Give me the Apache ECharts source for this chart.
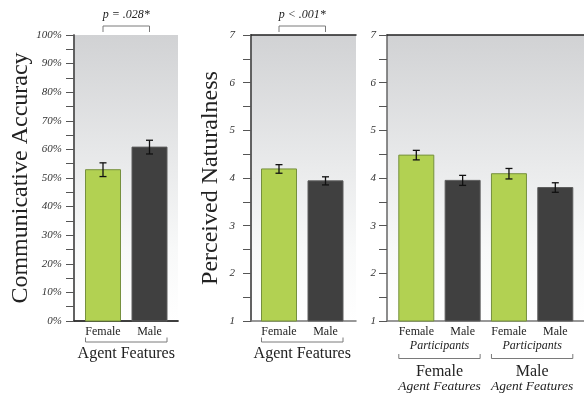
<!DOCTYPE html>
<html>
<head>
<meta charset="utf-8">
<script src="https://cdn.jsdelivr.net/npm/echarts@6/dist/echarts.min.js"></script>
<style>html,body{margin:0;padding:0;background:#fff}#c{width:584px;height:394px}</style>
</head>
<body>
<div id="c"></div>
<script>
// ---- data ----
const accCats = ['Female', 'Male'];
const accValues = [52.9, 60.8];
const accErr = [2.4, 2.4];
const accTicks = { min: 0, max: 100, interval: 10 };
const accP = 'p = .028*';

const natCats = ['Female', 'Male'];
const natValues = [4.19, 3.94];
const natErr = [0.09, 0.085];
const natP = 'p < .001*';

const partCats = ['Female', 'Male', 'Female', 'Male'];
const partSub = 'Participants';
const partValues = [4.48, 3.95, 4.09, 3.80];
const partErr = [0.10, 0.105, 0.11, 0.10];
const groupLabels = ['Female', 'Male'];
const groupSub = 'Agent Features';
const sevenTicks = { min: 1, max: 7, interval: 1 };

const xTitle = 'Agent Features';
const yTitle1 = 'Communicative Accuracy';
const yTitle2 = 'Perceived Naturalness';

// ---- style ----
const SERIF = "'Liberation Serif', 'DejaVu Serif', serif";
const GREEN = '#b2d152', GREEN_B = '#76903e';
const DARK = '#404040', DARK_B = '#5c5c5c';
const BAR_W = 35;
const bg = () => new echarts.graphic.LinearGradient(0, 0, 0, 1, [
  { offset: 0, color: '#d1d2d4' },
  { offset: 0.45, color: '#e9eaeb' },
  { offset: 0.75, color: '#f8f9f9' },
  { offset: 1, color: '#ffffff' }
]);

const frames = [
  { left: 74, top: 35, width: 104, height: 286 },
  { left: 251, top: 35, width: 105, height: 286 },
  { left: 387, top: 35, width: 202, height: 286 }
];
const dataGrids = [
  { left: 103, top: 35, width: 46.5, height: 286 },
  { left: 279, top: 35, width: 46.5, height: 286 },
  { left: 416.3, top: 35, width: 139, height: 286 }
];

const grid = frames.map(f => Object.assign({ show: true, backgroundColor: bg(), borderWidth: 0 }, f))
  .concat(dataGrids.map(d => Object.assign({ show: false }, d)));

const lineOnlyX = (gi, pos, color, w) => ({
  type: 'value', gridIndex: gi, position: pos, min: 0, max: 1,
  axisLine: { show: true, lineStyle: { color: color, width: w } },
  axisTick: { show: false }, axisLabel: { show: false }, splitLine: { show: false }
});

const catAxis = (gi, cats, extra) => Object.assign({
  type: 'category', gridIndex: gi, data: cats, boundaryGap: false,
  axisLine: { show: false }, axisTick: { show: false },
  axisLabel: { interval: 0, margin: 5, fontFamily: SERIF, fontSize: 12, color: '#222' }
}, extra);

const xAxis = [
  lineOnlyX(0, 'bottom', '#777', 1.5), lineOnlyX(0, 'top', '#222', 1.5),
  lineOnlyX(1, 'bottom', '#777', 1.5), lineOnlyX(1, 'top', '#222', 1.5),
  lineOnlyX(2, 'bottom', '#777', 1.5), lineOnlyX(2, 'top', '#222', 1.5),
  catAxis(3, accCats, {
    name: xTitle, nameLocation: 'middle', nameGap: 25,
    nameTextStyle: { fontFamily: SERIF, fontSize: 16, color: '#222' }
  }),
  catAxis(4, natCats, {
    name: xTitle, nameLocation: 'middle', nameGap: 25,
    nameTextStyle: { fontFamily: SERIF, fontSize: 16, color: '#222' }
  }),
  catAxis(5, partCats, {})
];

const leftY = (gi, t, fmt, margin, name, nameGap) => ({
  type: 'value', gridIndex: gi, position: 'left', min: t.min, max: t.max, interval: t.interval,
  axisLine: { show: true, lineStyle: { color: '#666', width: 1.5 } },
  axisTick: { show: true, length: 8, lineStyle: { color: '#555', width: 1 } },
  minorTick: { show: true, splitNumber: 2, length: 8, lineStyle: { color: '#555', width: 1 } },
  axisLabel: { margin: margin, fontFamily: SERIF, fontStyle: 'italic', fontSize: 11, color: '#333', formatter: fmt },
  splitLine: { show: false },
  name: name, nameLocation: 'middle', nameGap: nameGap,
  nameTextStyle: { fontFamily: SERIF, fontSize: 24, color: '#222' }
});
const rightLine = (gi, t) => ({
  type: 'value', gridIndex: gi, position: 'right', min: t.min, max: t.max,
  axisLine: { show: true, lineStyle: { color: '#555', width: 1.5 } },
  axisTick: { show: false }, axisLabel: { show: false }, splitLine: { show: false }
});
const hiddenY = (gi, t) => ({ type: 'value', gridIndex: gi, min: t.min, max: t.max, show: false, splitLine: { show: false } });

const yAxis = [
  leftY(0, accTicks, '{value}%', 12, yTitle1, 41), rightLine(0, accTicks),
  leftY(1, sevenTicks, '{value}', 16, yTitle2, 28), rightLine(1, sevenTicks),
  leftY(2, sevenTicks, '{value}', 11, '', 0),
  hiddenY(3, accTicks), hiddenY(4, sevenTicks), hiddenY(5, sevenTicks)
];

// bars drawn from the axis minimum up to the value, via the axis scales
const barSeries = (xi, yi, vals, t) => ({
  type: 'custom', xAxisIndex: xi, yAxisIndex: yi, silent: true, z: 2,
  data: vals.map((v, i) => [i, v]),
  renderItem: (params, api) => {
    const i = api.value(0);
    const top = api.coord([i, api.value(1)]);
    const base = api.coord([i, t.min]);
    const green = i % 2 === 0;
    return {
      type: 'rect',
      shape: { x: top[0] - BAR_W / 2, y: top[1], width: BAR_W, height: base[1] - top[1] },
      style: { fill: green ? GREEN : DARK, stroke: green ? GREEN_B : DARK_B, lineWidth: 1 }
    };
  }
});

const errSeries = (xi, yi, vals, errs) => ({
  type: 'custom', xAxisIndex: xi, yAxisIndex: yi, silent: true, z: 5,
  data: vals.map((v, i) => [i, v - errs[i], v + errs[i]]),
  renderItem: (params, api) => {
    const lo = api.coord([api.value(0), api.value(1)]);
    const hi = api.coord([api.value(0), api.value(2)]);
    const x = lo[0], c = 3.5;
    const st = { stroke: '#111', lineWidth: 1.3 };
    return {
      type: 'group', children: [
        { type: 'line', shape: { x1: x, y1: lo[1], x2: x, y2: hi[1] }, style: st },
        { type: 'line', shape: { x1: x - c, y1: lo[1], x2: x + c, y2: lo[1] }, style: st },
        { type: 'line', shape: { x1: x - c, y1: hi[1], x2: x + c, y2: hi[1] }, style: st }
      ]
    };
  }
});

// brackets & annotation text
const annotSeries = (xi, yi, n, t, opts) => ({
  type: 'custom', xAxisIndex: xi, yAxisIndex: yi, silent: true, z: 6,
  data: [[0, t.min]],
  renderItem: (params, api) => {
    const ch = [];
    const st = { stroke: '#7a7a7a', lineWidth: 1, fill: null };
    const first = api.coord([0, t.max]);
    const last = api.coord([n - 1, t.max]);
    const bottom = api.coord([0, t.min])[1];
    const top = first[1];
    if (opts.p) {
      const y = top - 9;
      ch.push({ type: 'polyline', shape: { points: [[first[0], top - 3], [first[0], y], [last[0], y], [last[0], top - 3]] }, style: st });
      ch.push({ type: 'text', x: (first[0] + last[0]) / 2, y: top - 20,
        style: { text: opts.p, fontFamily: SERIF, fontStyle: 'italic', fontSize: 12, fill: '#222', align: 'center', verticalAlign: 'middle' } });
    }
    const groups = opts.groups || [null];
    const per = n / groups.length;
    groups.forEach((g, gi) => {
      const l = api.coord([gi * per, t.min])[0] - BAR_W / 2;
      const r = api.coord([gi * per + per - 1, t.min])[0] + BAR_W / 2;
      const y = bottom + opts.bracketGap;
      ch.push({ type: 'polyline', shape: { points: [[l, y - 4.5], [l, y], [r, y], [r, y - 4.5]] }, style: st });
      if (g) {
        const cx = (l + r) / 2;
        ch.push({ type: 'text', x: cx, y: bottom + 25,
          style: { text: partSub, fontFamily: SERIF, fontStyle: 'italic', fontSize: 12, fill: '#222', align: 'center', verticalAlign: 'middle' } });
        ch.push({ type: 'text', x: cx, y: bottom + 51,
          style: { text: g, fontFamily: SERIF, fontSize: 16, fill: '#222', align: 'center', verticalAlign: 'middle' } });
        ch.push({ type: 'text', x: cx, y: bottom + 65,
          style: { text: groupSub, fontFamily: SERIF, fontStyle: 'italic', fontSize: 13.5, fill: '#222', align: 'center', verticalAlign: 'middle' } });
      }
    });
    return { type: 'group', children: ch };
  }
});

const series = [
  barSeries(6, 5, accValues, accTicks), errSeries(6, 5, accValues, accErr),
  annotSeries(6, 5, accCats.length, accTicks, { p: accP, bracketGap: 21 }),
  barSeries(7, 6, natValues, sevenTicks), errSeries(7, 6, natValues, natErr),
  annotSeries(7, 6, natCats.length, sevenTicks, { p: natP, bracketGap: 21 }),
  barSeries(8, 7, partValues, sevenTicks), errSeries(8, 7, partValues, partErr),
  annotSeries(8, 7, partCats.length, sevenTicks, { groups: groupLabels, bracketGap: 37.5 })
];

const chart = echarts.init(document.getElementById('c'), null, { renderer: 'canvas' });
chart.setOption({ animation: false, grid, xAxis, yAxis, series });
</script>
</body>
</html>
